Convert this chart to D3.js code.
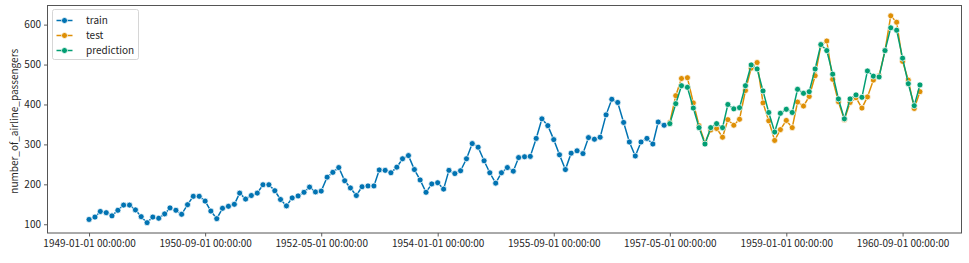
<!DOCTYPE html>
<html>
<head>
<meta charset="utf-8">
<script src="https://cdn.jsdelivr.net/npm/d3@7"></script>
<style>
  body { margin: 0; background: #fff; }
  svg text { font-family: "Noto Sans CJK JP", "DejaVu Sans", sans-serif; fill: #262626; }
</style>
</head>
<body>
<svg id="chart" width="969" height="263"></svg>
<script>
// monthly airline passengers, train from 1949-01, test + prediction from 1957-05
const trainStart = "1949-01-01";
const trainValues = [
  112,118,132,129,121,135,148,148,136,119,104,118,
  115,126,141,135,125,149,170,170,158,133,114,140,
  145,150,178,163,172,178,199,199,184,162,146,166,
  171,180,193,181,183,218,230,242,209,191,172,194,
  196,196,236,235,229,243,264,272,237,211,180,201,
  204,188,235,227,234,264,302,293,259,229,203,229,
  242,233,267,269,270,315,364,347,312,274,237,278,
  284,277,317,313,318,374,413,405,355,306,271,306,
  315,301,356,348
];
const testStart = "1957-05-01";
const testValues = [
  355,422,465,467,404,347,305,336,
  340,318,362,348,363,435,491,505,404,359,310,337,
  360,342,406,396,420,472,548,559,463,407,362,405,
  417,391,419,461,472,535,622,606,508,461,390,432
];
const predValues = [
  352,402,447,443,391,342,301,342,
  352,342,400,389,392,447,499,489,434,380,331,378,
  388,380,438,428,432,489,550,535,476,414,364,414,
  424,418,484,471,469,535,592,586,516,452,397,449
];
const tickDates = ["1949-01-01","1950-09-01","1952-05-01","1954-01-01","1955-09-01","1957-05-01","1959-01-01","1960-09-01"];
const yTicks = [100,200,300,400,500,600];
const seriesNames = ["train","test","prediction"];
const seriesColors = ["#0173b2","#de8f05","#029e73"];

const parse = d3.timeParse("%Y-%m-%d");
function toPoints(start, vals){
  const s = parse(start);
  return vals.map((v,i)=>({date: d3.timeMonth.offset(s, i), value: v}));
}
const series = [
  toPoints(trainStart, trainValues),
  toPoints(testStart, testValues),
  toPoints(testStart, predValues)
];

const svg = d3.select("#chart");
const margin = {left: 47.5, right: 7.5, top: 5.5, bottom: 30};
const W = 969, H = 263;

const allPts = series.flat();
const xExt = d3.extent(allPts, d=>d.date);
const xSpan = xExt[1]-xExt[0];
const x = d3.scaleTime()
  .domain([new Date(+xExt[0]-xSpan*0.05), new Date(+xExt[1]+xSpan*0.05)])
  .range([margin.left, W-margin.right]);
const yExt = d3.extent(allPts, d=>d.value);
const ySpan = yExt[1]-yExt[0];
const y = d3.scaleLinear()
  .domain([yExt[0]-ySpan*0.05, yExt[1]+ySpan*0.05])
  .range([H-margin.bottom, margin.top]);

// axes
const fmt = d3.timeFormat("%Y-%m-%d %H:%M:%S");
const xAxis = svg.append("g")
  .attr("transform", `translate(0,${H-margin.bottom})`)
  .call(d3.axisBottom(x).tickValues(tickDates.map(parse)).tickFormat(fmt).tickSizeOuter(0).tickSize(3.5).tickPadding(3));
const yAxis = svg.append("g")
  .attr("transform", `translate(${margin.left},0)`)
  .call(d3.axisLeft(y).tickValues(yTicks).tickSizeOuter(0).tickSize(3.5).tickPadding(3));
[xAxis, yAxis].forEach(g=>{
  g.select(".domain").remove();
  g.selectAll("line").attr("stroke","#333").attr("stroke-width",0.8);
  g.selectAll("text").style("font-size","10px").attr("fill","#262626");
});

svg.append("rect")
  .attr("x", margin.left).attr("y", margin.top)
  .attr("width", W-margin.right-margin.left)
  .attr("height", H-margin.bottom-margin.top)
  .attr("fill","none").attr("stroke","#555").attr("stroke-width",1);

svg.append("text")
  .attr("transform", `translate(14,${(margin.top + H - margin.bottom)/2 + 2}) rotate(-90)`)
  .attr("text-anchor","middle")
  .attr("dy","0.35em")
  .style("font-size","10px")
  .text("number_of_airline_passengers");

// lines + markers
const line = d3.line().x(d=>x(d.date)).y(d=>y(d.value));
series.forEach((pts, k)=>{
  const g = svg.append("g");
  g.append("path")
    .datum(pts)
    .attr("d", line)
    .attr("fill","none")
    .attr("stroke", seriesColors[k])
    .attr("stroke-width", 1.5);
  g.selectAll("circle")
    .data(pts)
    .join("circle")
    .attr("cx", d=>x(d.date))
    .attr("cy", d=>y(d.value))
    .attr("r", 3)
    .attr("fill", seriesColors[k])
    .attr("stroke","#fff")
    .attr("stroke-width",0.75);
});

// legend
const leg = svg.append("g").attr("transform","translate(52.5,9.5)");
leg.append("rect")
  .attr("width", 86).attr("height", 50).attr("rx", 2)
  .attr("fill","#fff").attr("fill-opacity",0.8)
  .attr("stroke","#ccc").attr("stroke-width",0.8);
seriesNames.forEach((name, i)=>{
  const yy = 11 + i*15;
  leg.append("line").attr("x1",4).attr("x2",20).attr("y1",yy).attr("y2",yy)
    .attr("stroke", seriesColors[i]).attr("stroke-width",1.5);
  leg.append("circle").attr("cx",12).attr("cy",yy).attr("r",3)
    .attr("fill", seriesColors[i]).attr("stroke","#fff").attr("stroke-width",0.75);
  leg.append("text").attr("x",33.5).attr("y",yy).attr("dy","0.35em")
    .style("font-size","10px").text(name);
});
</script>
</body>
</html>
